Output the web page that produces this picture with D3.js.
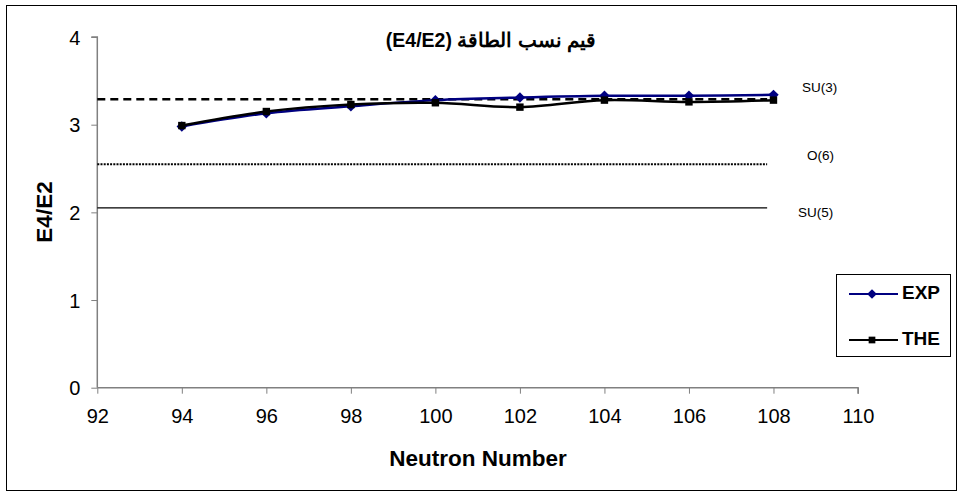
<!DOCTYPE html>
<html>
<head>
<meta charset="utf-8">
<script src="https://d3js.org/d3.v7.min.js"></script>
<style>
  body { margin: 0; background: #fff; }
  svg text { font-family: Arial, 'Liberation Sans', sans-serif; }
</style>
</head>
<body>
<div id="chart"></div>
<script>
  /*--- Chart Data ---*/
  var neutrons = [94, 96, 98, 100, 102, 104, 106, 108];
  var expValues = [2.98, 3.13, 3.21, 3.28, 3.31, 3.33, 3.33, 3.34];
  var theValues = [2.99, 3.15, 3.23, 3.25, 3.20, 3.28, 3.26, 3.28];
  var limitNames = ["SU(3)", "O(6)", "SU(5)"];
  var limitValues = [3.29, 2.55, 2.05];
  var limitStart = 92, limitEnd = 107.85;
  var xTicks = [92, 94, 96, 98, 100, 102, 104, 106, 108, 110];
  var yTicks = [0, 1, 2, 3, 4];
  var seriesNames = ["EXP", "THE"];

  /*--- Setup ---*/
  var width = 958, height = 493,
    x = d3.scaleLinear().domain([92, 110]).range([97.3, 858]),
    y = d3.scaleLinear().domain([0, 4]).range([387.7, 37]),
    axisColor = "#808080";

  var svg = d3.select("#chart").append("svg")
    .attr("width", width)
    .attr("height", height);

  // outer frame
  svg.append("rect")
    .attr("x", 6.5).attr("y", 5.5)
    .attr("width", 950).attr("height", 485)
    .attr("fill", "#fff")
    .attr("stroke", "#000")
    .attr("stroke-width", 1);

  /*--- Axes ---*/
  var xAxis = svg.append("g")
    .attr("transform", "translate(0," + y(0) + ")")
    .call(d3.axisBottom(x).tickValues(xTicks).tickSize(6).tickPadding(15));
  var yAxis = svg.append("g")
    .attr("transform", "translate(" + x(92) + ",0)")
    .call(d3.axisLeft(y).tickValues(yTicks).tickFormat(d3.format("d")).tickSize(6).tickPadding(11));

  [xAxis, yAxis].forEach(function(a) {
    a.select(".domain").attr("stroke", axisColor).attr("stroke-width", 1.5);
    a.selectAll(".tick line").attr("stroke", axisColor).attr("stroke-width", 1);
    a.selectAll(".tick text")
      .attr("fill", "#000")
      .style("font-size", "20px")
      .style("font-family", "Arial, 'Liberation Sans', sans-serif");
  });
  // keep only the flat axis line, ticks are drawn separately
  xAxis.select(".domain").attr("d", "M" + x(92) + ",0H" + x(110) + "V6");
  yAxis.select(".domain").attr("d", "M-6," + y(4) + "H0V" + y(0));
  yAxis.selectAll(".tick text").attr("dy", "0.36em");

  /*--- Reference lines ---*/
  var dashes = ["8,5", "2,1.2", null];
  limitValues.forEach(function(v, i) {
    var ln = svg.append("line")
      .attr("x1", x(limitStart)).attr("x2", x(limitEnd))
      .attr("y1", y(v)).attr("y2", y(v))
      .attr("stroke", "#000")
      .attr("stroke-width", i == 0 ? 2.5 : (i == 1 ? 2 : 1.3));
    if (dashes[i]) ln.attr("stroke-dasharray", dashes[i]);
  });

  var labelPos = [[802, 88], [807, 156], [798, 213]];
  limitNames.forEach(function(n, i) {
    svg.append("text")
      .attr("x", labelPos[i][0]).attr("y", labelPos[i][1])
      .attr("dominant-baseline", "middle")
      .style("font-size", "13.5px")
      .text(n);
  });

  /*--- Series ---*/
  var line = d3.line()
    .x(function(d) { return x(d[0]); })
    .y(function(d) { return y(d[1]); })
    .curve(d3.curveCatmullRom.alpha(0.5));

  var expData = neutrons.map(function(n, i) { return [n, expValues[i]]; });
  var theData = neutrons.map(function(n, i) { return [n, theValues[i]]; });

  function drawSeries(data, color, shape) {
    svg.append("path")
      .datum(data)
      .attr("d", line)
      .attr("fill", "none")
      .attr("stroke", color)
      .attr("stroke-width", 2.5);
    svg.selectAll(null).data(data).enter()
      .append("path")
      .attr("transform", function(d) { return "translate(" + x(d[0]) + "," + y(d[1]) + ")"; })
      .attr("d", d3.symbol().type(shape).size(shape === d3.symbolDiamond2 ? 70 : 55))
      .attr("fill", color);
  }
  drawSeries(expData, "#000080", d3.symbolDiamond2);
  drawSeries(theData, "#000", d3.symbolSquare);

  /*--- Titles ---*/
  svg.append("text")
    .attr("x", 491).attr("y", 47)
    .attr("text-anchor", "middle")
    .style("font-size", "19.5px")
    .style("font-weight", "bold")
    .attr("direction", "rtl")
    .text("قيم نسب الطاقة (E4/E2)");

  svg.append("text")
    .attr("x", 478).attr("y", 466)
    .attr("text-anchor", "middle")
    .style("font-size", "22.5px")
    .style("font-weight", "bold")
    .text("Neutron Number");

  svg.append("text")
    .attr("transform", "translate(52,212) rotate(-90)")
    .attr("text-anchor", "middle")
    .style("font-size", "22.5px")
    .style("font-weight", "bold")
    .text("E4/E2");

  /*--- Legend ---*/
  var legend = svg.append("g");
  legend.append("rect")
    .attr("x", 836.5).attr("y", 274.5)
    .attr("width", 114).attr("height", 82)
    .attr("fill", "#fff")
    .attr("stroke", "#000");
  var legendColors = ["#000080", "#000"],
    legendShapes = [d3.symbolDiamond2, d3.symbolSquare],
    legendY = [294, 340];
  seriesNames.forEach(function(n, i) {
    legend.append("line")
      .attr("x1", 849).attr("x2", 898)
      .attr("y1", legendY[i]).attr("y2", legendY[i])
      .attr("stroke", legendColors[i]).attr("stroke-width", 2);
    legend.append("path")
      .attr("transform", "translate(872," + legendY[i] + ")")
      .attr("d", d3.symbol().type(legendShapes[i]).size(i == 0 ? 60 : 45))
      .attr("fill", legendColors[i]);
    legend.append("text")
      .attr("x", 902).attr("y", legendY[i])
      .attr("dominant-baseline", "middle")
      .style("font-size", "19px")
      .style("font-weight", "bold")
      .text(n);
  });
</script>
</body>
</html>
